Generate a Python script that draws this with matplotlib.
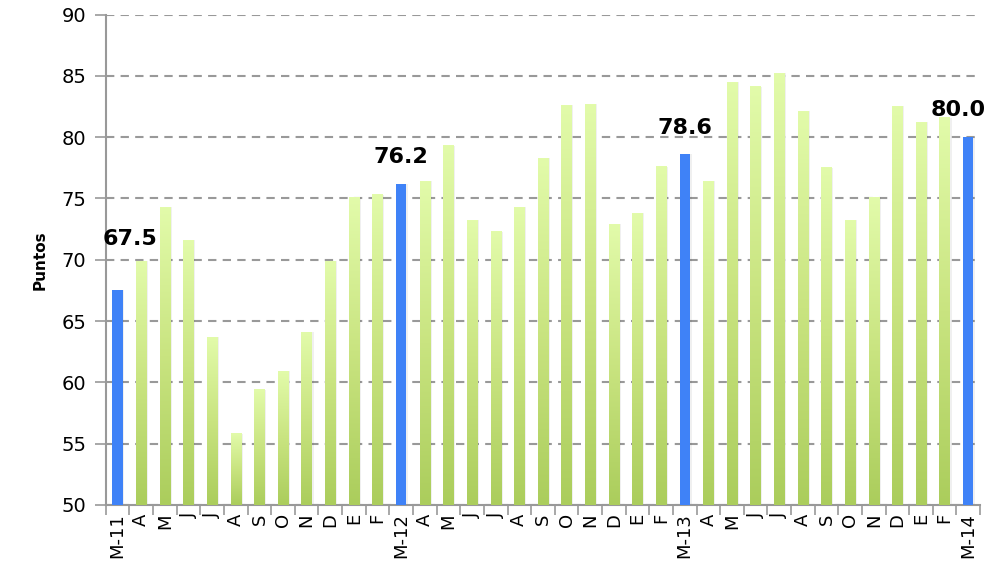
import matplotlib
matplotlib.use('Agg')
import numpy as np
import matplotlib.pyplot as plt
from matplotlib.colors import LinearSegmentedColormap

# data
labels = ['M-11', 'A', 'M', 'J', 'J', 'A', 'S', 'O', 'N', 'D', 'E', 'F',
          'M-12', 'A', 'M', 'J', 'J', 'A', 'S', 'O', 'N', 'D', 'E', 'F',
          'M-13', 'A', 'M', 'J', 'J', 'A', 'S', 'O', 'N', 'D', 'E', 'F',
          'M-14']
values = [67.5, 69.9, 74.3, 71.6, 63.7, 55.8, 59.4, 60.9, 64.1, 69.9, 75.1, 75.3,
          76.2, 76.4, 79.3, 73.2, 72.3, 74.3, 78.3, 82.6, 82.7, 72.9, 73.8, 77.6,
          78.6, 76.4, 84.5, 84.1, 85.2, 82.1, 77.5, 73.2, 75.1, 82.5, 81.2, 81.6,
          80.0]
highlight = ['M-11', 'M-12', 'M-13', 'M-14']

plt.rcParams['font.family'] = ['DejaVu Sans']

fig = plt.figure(figsize=(9.89, 5.81), dpi=100)
ax = fig.add_axes([0.107, 0.131, 0.884, 0.844])

ymin, ymax = 50, 90
width = 0.44
green = LinearSegmentedColormap.from_list('g', ['#abcd5c', '#c9e480', '#e2fbaa'])
grad = np.linspace(0, 1, 256).reshape(-1, 1)

x = np.arange(len(values))
for i, (lab, v) in enumerate(zip(labels, values)):
    # faint shadow
    ax.bar(i + 0.07, v - ymin, width, bottom=ymin, color='#000000', alpha=0.06,
           zorder=2, linewidth=0)
    if lab in highlight:
        ax.bar(i, v - ymin, width, bottom=ymin, color='#3f82f7', zorder=3, linewidth=0)
        dy, dx = 12, 0
        if lab == 'M-11':
            dy, dx = 30, 9
        elif i == len(values) - 1:
            dx = -7
        ax.annotate(f'{v:.1f}', (i, v), xytext=(dx, dy), textcoords='offset points',
                    ha='center', va='bottom', fontsize=16, fontweight='bold',
                    zorder=5)
    else:
        ax.imshow(grad, cmap=green, origin='lower', aspect='auto',
                  extent=[i - width / 2, i + width / 2, ymin, v], zorder=3)

ax.set_xlim(-0.5, len(values) - 0.5)
ax.set_ylim(ymin, ymax)
ax.set_yticks(range(50, 91, 5))
ax.tick_params(axis='y', labelsize=14, length=8, color='#999999', width=1.2, pad=6)

ax.set_xticks(x)
ax.set_xticklabels(labels, rotation=90, fontsize=13)
ax.set_xticks(np.arange(-0.5, len(values), 1), minor=True)
ax.tick_params(axis='x', which='major', length=0, pad=6)
ax.tick_params(axis='x', which='minor', length=7, color='#999999', width=1.2)

ax.yaxis.grid(True, linestyle=(0, (4, 3)), color='#999999', linewidth=1.5, zorder=0)
ax.set_axisbelow(True)

for s in ['top', 'right']:
    ax.spines[s].set_visible(False)
for s in ['left', 'bottom']:
    ax.spines[s].set_color('#999999')
    ax.spines[s].set_linewidth(1.5)

ax.set_ylabel('Puntos', fontsize=11, fontweight='bold', labelpad=10)

fig.savefig('out.png', dpi=100)
